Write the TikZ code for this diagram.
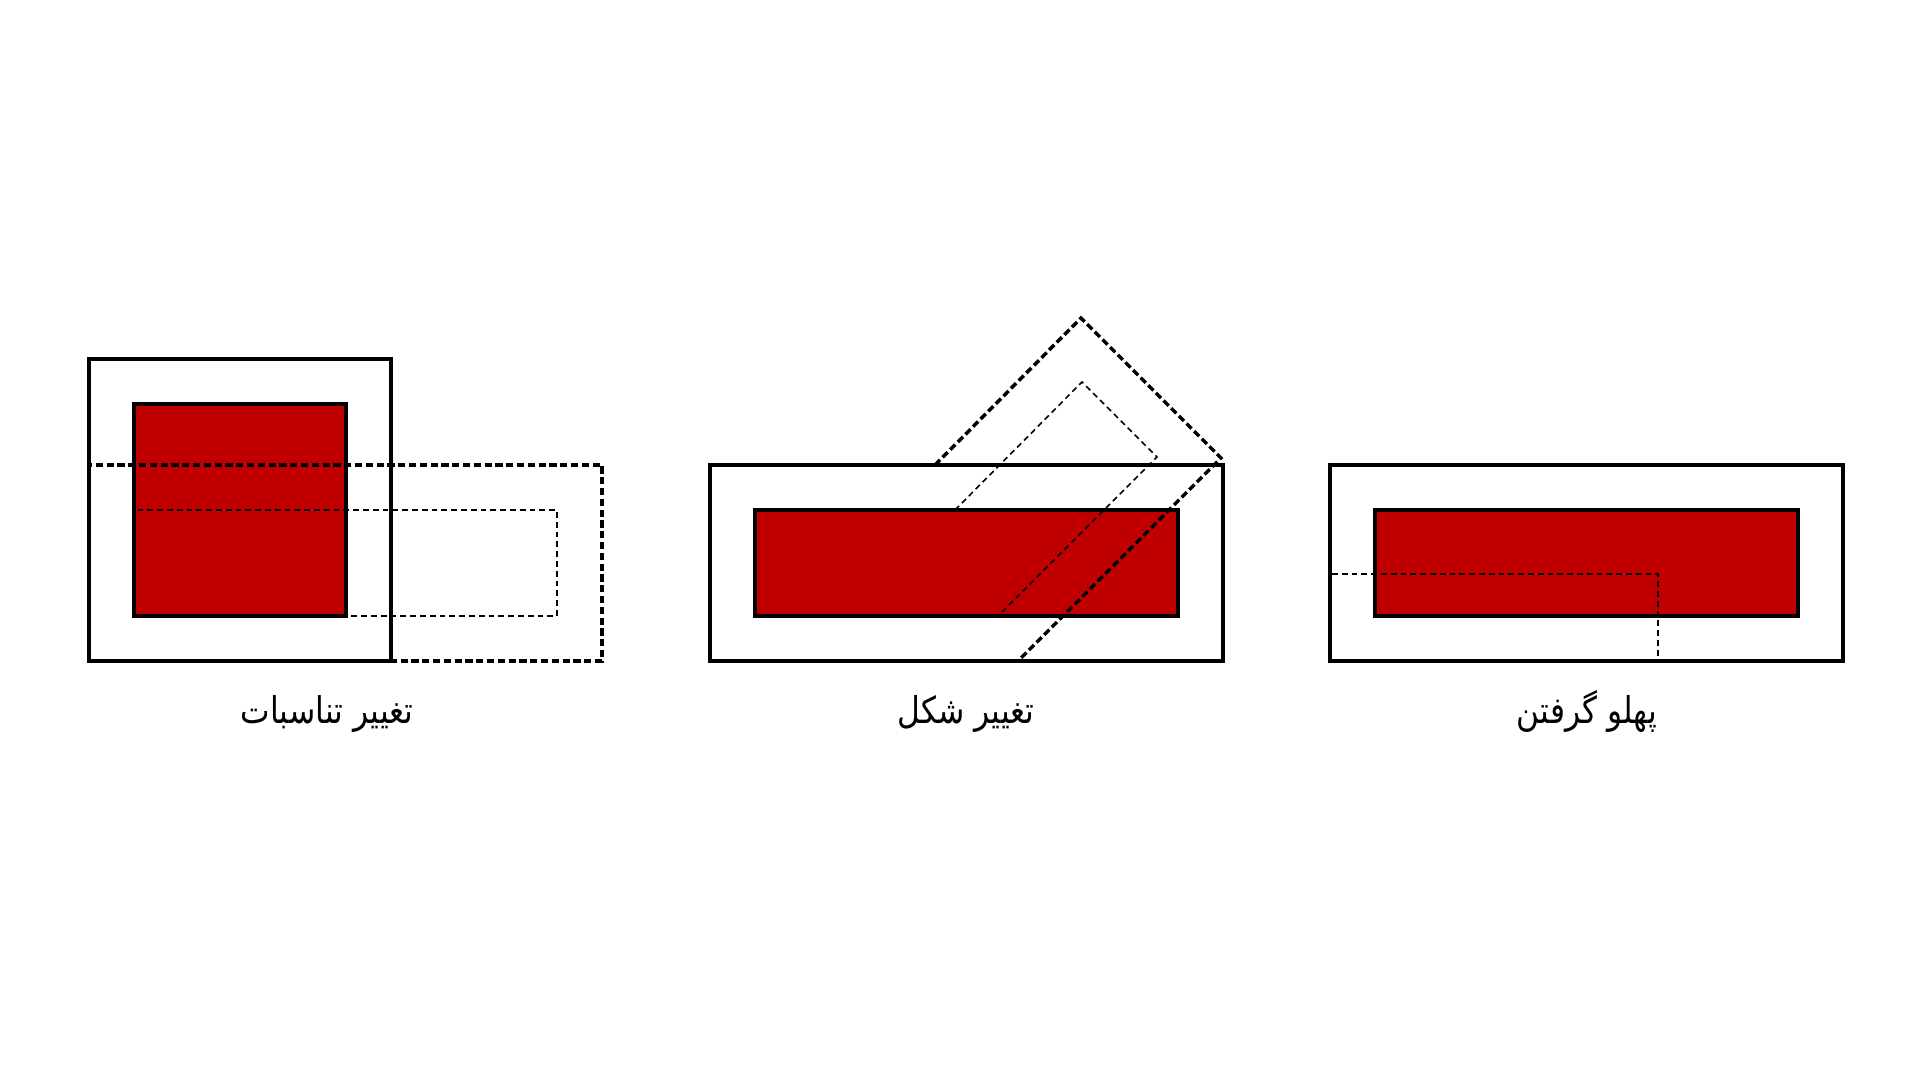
\documentclass[tikz,border=0pt]{standalone}
\usepackage{fontspec}
\newfontfamily\arabicfont[Script=Arabic, FakeStretch=0.85]{DejaVu Sans}
\TeXXeTstate=1
\usetikzlibrary{calc}
\definecolor{brick}{RGB}{192,0,0}
\tikzset{
  frame/.style={draw=black, line width=1pt},
  core/.style={fill=brick, draw=black, line width=1pt},
  shiftline/.style={draw=black, line width=1pt, dash pattern=on 0.72mm off 0.36mm},
  guideline/.style={draw=black, line width=0.45pt, dash pattern=on 0.58mm off 0.4mm},
  caption/.style={font=\arabicfont\fontsize{10.5}{13}\selectfont, anchor=base}
}

\begin{document}
\begin{tikzpicture}[x=0.1mm, y=-0.1mm]
\useasboundingbox (0,0) rectangle (1920,1082);
% the red cores
\fill[brick] (134,404) rectangle (346,616);
\fill[brick] (755,510) rectangle (1178,616);
\fill[brick] (1375,510) rectangle (1798,616);
% 1st panel
\draw[frame] (89,359) rectangle (391,661);
\draw[core] (134,404) rectangle (346,616);
\draw[shiftline] (89,465) rectangle (602,661);
\draw[guideline] (134,510) rectangle (557,616);
\node[caption] (ratio) at (327,723) {\beginR تغییر تناسبات\endR};
% 2nd panel
\draw[frame] (710,465) rectangle (1223,661);
\draw[core] (755,510) rectangle (1178,616);
%     rotated copy
\coordinate (tip) at (1081,318);
\coordinate (corner) at (1221,458);
\coordinate (itip) at (1082,382);
\coordinate (icorner) at (1157,457);
\draw[shiftline] (935,465) -- (tip) -- (corner) -- (1018,661);
\draw[guideline] (955,510) -- (itip) -- (icorner) -- (998,616);
\node[caption] (shape) at (966,723) {\beginR تغییر شکل\endR};
% 3rd panel
\draw[frame] (1330,465) rectangle (1843,661);
\draw[core] (1375,510) rectangle (1798,616);
\draw[guideline] (1332,574) -- (1658,574) -- (1658,661);
\node[caption] (side) at (1587,723) {\beginR پهلو گرفتن\endR};
\end{tikzpicture}
\end{document}
